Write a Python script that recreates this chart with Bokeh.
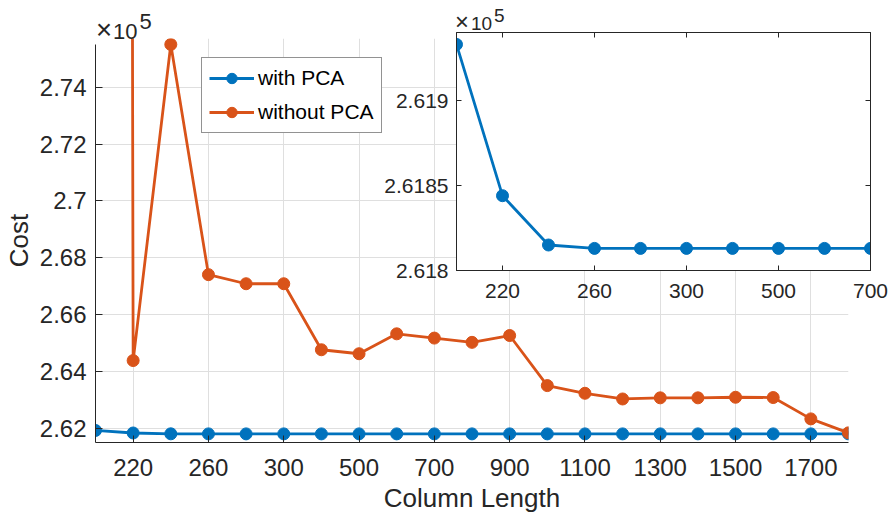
from bokeh.plotting import figure
from bokeh.models import (Range1d, FixedTicker, LinearAxis, Legend,
                          LegendItem, Div)
from bokeh.embed import file_html
from bokeh.resources import INLINE

# ---------------- data (cost in units of 1e5) ----------------
column_length = [200, 220, 240, 260, 280, 300, 400, 500, 600, 700, 800,
                 900, 1000, 1100, 1200, 1300, 1400, 1500, 1600, 1700, 1800]
cost_with_pca = [2.61933, 2.61844, 2.61815, 2.61813, 2.61813, 2.61813,
                 2.61813, 2.61813, 2.61813, 2.61813, 2.61813, 2.61813,
                 2.61813, 2.61813, 2.61813, 2.61813, 2.61813, 2.61813,
                 2.61813, 2.61813, 2.61813]
cost_without_pca = [9.0, 2.6439, 2.7550, 2.6741, 2.6709, 2.6709, 2.6477,
                    2.6463, 2.6533, 2.6518, 2.6503, 2.6527, 2.6351, 2.6324,
                    2.6304, 2.6308, 2.6308, 2.6310, 2.6309, 2.6234, 2.6185]
main_x_tick_labels = ["220", "260", "300", "500", "700", "900", "1100",
                      "1300", "1500", "1700"]
main_y_ticks = [2.62, 2.64, 2.66, 2.68, 2.7, 2.72, 2.74]
main_y_tick_labels = ["2.62", "2.64", "2.66", "2.68", "2.7", "2.72", "2.74"]
inset_count = 10
inset_x_tick_labels = ["220", "260", "300", "500", "700"]
inset_y_ticks = [2.618, 2.6185, 2.619]
inset_y_tick_labels = ["2.618", "2.6185", "2.619"]
exponent = "5"

# ---------------- style ----------------
FONT = "Liberation Sans"
AX = "#262626"
GRID = "#dfdfdf"
BLUE = "#0072BD"
ORANGE = "#D95319"

xs = list(range(len(column_length)))
main_x_ticks = [column_length.index(int(t)) for t in main_x_tick_labels]
inset_x_ticks = [column_length.index(int(t)) for t in inset_x_tick_labels]

MAIN_YMIN, MAIN_YTOP, MAIN_YEND = 2.6151, 2.755, 2.7571

# ---------------- main figure ----------------
p = figure(width=880, height=515,
           x_range=Range1d(0, len(xs) - 1),
           y_range=Range1d(MAIN_YMIN, MAIN_YEND),
           output_backend="svg", toolbar_location=None,
           min_border_left=95, min_border_right=32,
           min_border_top=38, min_border_bottom=73,
           outline_line_color=None, background_fill_color="white",
           border_fill_color="white",
           styles={"position": "absolute", "left": "0px", "top": "0px"})

r1 = p.line(xs, cost_with_pca, line_color=BLUE, line_width=2.8)
r1m = p.scatter(xs, cost_with_pca, size=12, fill_color=BLUE, line_color=BLUE)
r2 = p.line(xs, cost_without_pca, line_color=ORANGE, line_width=2.8)
r2m = p.scatter(xs, cost_without_pca, size=12, fill_color=ORANGE, line_color=ORANGE)

xt = FixedTicker(ticks=main_x_ticks)
yt = FixedTicker(ticks=main_y_ticks)
xax = p.below[0]
yax = p.left[0]
xax.ticker = xt
yax.ticker = yt
xax.major_label_overrides = {t: l for t, l in zip(main_x_ticks, main_x_tick_labels)}
yax.major_label_overrides = {t: l for t, l in zip(main_y_ticks, main_y_tick_labels)}
yax.bounds = (MAIN_YMIN, MAIN_YTOP)
p.xgrid.ticker = xt
p.ygrid.ticker = yt
for g in (p.xgrid, p.ygrid):
    g.grid_line_color = GRID
    g.grid_line_width = 1

for ax in (xax, yax):
    ax.axis_line_color = AX
    ax.axis_line_width = 1
    ax.major_tick_line_color = AX
    ax.major_tick_in = 7
    ax.major_tick_out = 0
    ax.minor_tick_line_color = None
    ax.major_label_text_font = FONT
    ax.major_label_text_font_size = "24px"
    ax.major_label_text_color = AX
    ax.axis_label_text_font = FONT
    ax.axis_label_text_font_size = "26px"
    ax.axis_label_text_font_style = "normal"
    ax.axis_label_text_color = AX
xax.axis_label = "Column Length"
yax.axis_label = "Cost"
xax.major_label_standoff = 16
xax.axis_label_standoff = 4
yax.major_label_standoff = 9
yax.axis_label_standoff = 3

legend = Legend(items=[LegendItem(label="with PCA", renderers=[r1, r1m]),
                       LegendItem(label="without PCA", renderers=[r2, r2m])],
                location=(106, 309), margin=0, padding=7, spacing=8,
                glyph_width=45, glyph_height=26, label_height=26,
                label_standoff=4,
                label_text_font=FONT, label_text_font_size="21px",
                label_text_color="#000000",
                border_line_color=AX, border_line_width=1,
                background_fill_color="white", background_fill_alpha=1.0)
p.add_layout(legend)

# ---------------- inset figure ----------------
INS_YMIN, INS_YMAX = 2.618, 2.6194
ins_x = xs[:inset_count]
ins_y = cost_with_pca[:inset_count]
ins = figure(width=512, height=310,
             x_range=Range1d(0, inset_count - 1),
             y_range=Range1d(INS_YMIN, INS_YMAX),
             output_backend="svg", toolbar_location=None,
             min_border_left=80, min_border_right=18,
             min_border_top=32, min_border_bottom=40,
             border_fill_color=None, background_fill_color="white",
             outline_line_color=AX, outline_line_width=1,
             styles={"position": "absolute", "left": "376px", "top": "0px"})
ins.line(ins_x, ins_y, line_color=BLUE, line_width=2.8)
ins.scatter(ins_x, ins_y, size=12, fill_color=BLUE, line_color=BLUE)
ins.xgrid.visible = False
ins.ygrid.visible = False

ixt = FixedTicker(ticks=inset_x_ticks)
iyt = FixedTicker(ticks=inset_y_ticks)
ixax = ins.below[0]
iyax = ins.left[0]
ixax.ticker = ixt
iyax.ticker = iyt
ixax.major_label_overrides = {t: l for t, l in zip(inset_x_ticks, inset_x_tick_labels)}
iyax.major_label_overrides = {t: l for t, l in zip(inset_y_ticks, inset_y_tick_labels)}
top_ax = LinearAxis(ticker=ixt, major_label_text_color=None,
                    major_label_standoff=0)
right_ax = LinearAxis(ticker=iyt, major_label_text_color=None,
                      major_label_standoff=0)
ins.add_layout(top_ax, "above")
ins.add_layout(right_ax, "right")
for ax in (ixax, iyax, top_ax, right_ax):
    ax.axis_line_color = AX
    ax.major_tick_line_color = AX
    ax.major_tick_in = 5
    ax.major_tick_out = 0
    ax.minor_tick_line_color = None
    ax.major_label_text_font = FONT
for ax in (ixax, iyax):
    ax.major_label_text_color = AX
    ax.major_label_text_font_size = "21px"
ixax.major_label_standoff = 13
iyax.major_label_standoff = 8

# ---------------- axis exponent texts (x10^5) ----------------
def exponent_div(left, top, size, line_h, gap, raise_px):
    html = ('<span style="font-size:125%%">×</span>'
            '<span style="margin-left:%dpx">10</span>'
            '<span style="position:relative; top:-%dpx; margin-left:2px">%s</span>'
            % (gap, raise_px, exponent))
    return Div(text=html, width=80, height=line_h + 4, margin=0,
               styles={"position": "absolute", "left": "%dpx" % left,
                       "top": "%dpx" % top, "font-family": FONT,
                       "font-size": "%dpx" % size, "color": AX,
                       "line-height": "%dpx" % line_h,
                       "white-space": "nowrap", "overflow": "visible"})

exp_main = exponent_div(96, 17, 22, 26, 1, 10)
exp_ins = exponent_div(455, 11, 19, 22, 2, 8)

open("out.html", "w").write(file_html((p, ins, exp_main, exp_ins), INLINE))
